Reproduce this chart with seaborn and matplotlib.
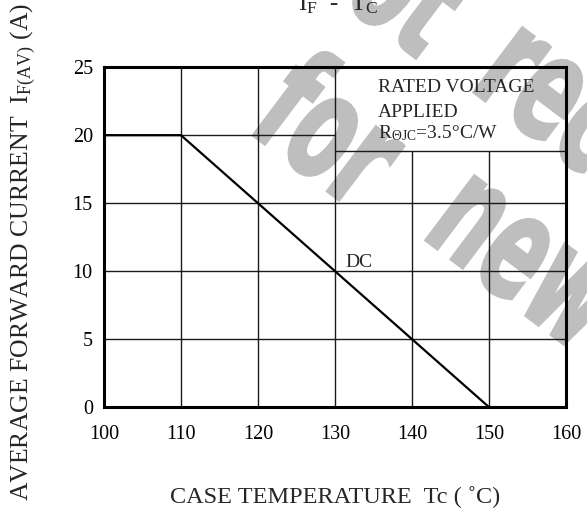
import matplotlib
matplotlib.use("Agg")
import matplotlib.pyplot as plt
import seaborn as sns
import pandas as pd
from matplotlib.textpath import TextPath
from matplotlib.patches import PathPatch
from matplotlib.font_manager import FontProperties
from matplotlib.transforms import Affine2D

# derating curve
temp = [100, 110, 150]
current = [20, 20, 0]

x_ticks = [100, 110, 120, 130, 140, 150, 160]
y_ticks = [0, 5, 10, 15, 20, 25]

# grid pieces (the note box at top right hides part of the grid)
vgrid_full = [110, 120, 130]
vgrid_short = [140, 150]
hgrid_full = [5, 10, 15]
hgrid_short = [20]
box_bottom = 18.8

W, H = 587, 511

sns.set_style("white")
plt.rcParams['font.family'] = ['Liberation Serif', 'DejaVu Serif']
plt.rcParams['mathtext.fontset'] = 'custom'
plt.rcParams['mathtext.rm'] = 'Liberation Serif'
plt.rcParams['mathtext.it'] = 'Liberation Serif:italic'

fig = plt.figure(figsize=(W / 100, H / 100), dpi=100)


def watermark(text, px, py, size=148, sx=0.57, rot=-37):
    # big grey condensed word, anchored at its baseline-left in image pixels
    fp = FontProperties(family='DejaVu Sans', weight='bold')
    path = TextPath((0, 0), text, size=size, prop=fp)
    tr = Affine2D().scale(sx, 1.0).rotate_deg(rot).translate(px, H - py)
    fig.add_artist(PathPatch(path, transform=tr, facecolor='#bebebe',
                             edgecolor='#bebebe', linewidth=2.0, zorder=-5))


watermark("not", 292, -35)
watermark("recommended", 468, 88)
watermark("for", 246, 130)
watermark("new", 420, 236)
watermark("design", 600, 360)

ax = fig.add_axes([0.177, 0.2035, 0.787, 0.665])
ax.patch.set_alpha(0)

df = pd.DataFrame({'Tc': temp, 'IF': current})
sns.lineplot(data=df, x='Tc', y='IF', color='black', linewidth=1.6, ax=ax, zorder=3)

gc = '#1a1a1a'
ax.vlines(vgrid_full, 0, 25, color=gc, linewidth=1.0, zorder=2)
ax.vlines(vgrid_short, 0, box_bottom, color=gc, linewidth=1.0, zorder=2)
ax.hlines(hgrid_full, 100, 160, color=gc, linewidth=1.0, zorder=2)
ax.hlines(hgrid_short, 100, 130, color=gc, linewidth=1.0, zorder=2)
ax.hlines([box_bottom], 130, 160, color=gc, linewidth=1.0, zorder=2)

ax.set_xlim(100, 160)
ax.set_ylim(0, 25)
ax.set_xticks(x_ticks)
ax.set_yticks(y_ticks)
ax.tick_params(length=0, labelsize=14.5, colors='black')
ax.tick_params(axis='x', pad=13)
ax.tick_params(axis='y', pad=8)
for s in ax.spines.values():
    s.set_visible(True)
    s.set_color('black')
    s.set_linewidth(2.2)

ax.set_xlabel("CASE TEMPERATURE  Tc ( ˚C)", fontsize=17.5, va='center')
ax.set_ylabel(r"AVERAGE FORWARD CURRENT  I$_{\mathrm{F(AV)}}$ (A)", fontsize=18.5,
              va='center')
ax.xaxis.set_label_coords(0.5, -0.265)
ax.yaxis.set_label_coords(-0.174, 0.456)

ax.text(135.6, 23.16, "RATED VOLTAGE", fontsize=14, va='baseline')
ax.text(135.6, 21.32, "APPLIED", fontsize=14, va='baseline')
ax.text(135.6, 19.78, r"R$_{\mathrm{\Theta JC}}$=3.5°C/W", fontsize=14, va='baseline')
ax.text(131.3, 10.3, "DC", fontsize=14, va='baseline')

fig.text(338 / W, 1 - 10 / H, r"I$_{\mathrm{F}}$  -  T$_{\mathrm{C}}$",
         fontsize=18, ha='center', va='baseline')

fig.savefig("out.png", dpi=100)
